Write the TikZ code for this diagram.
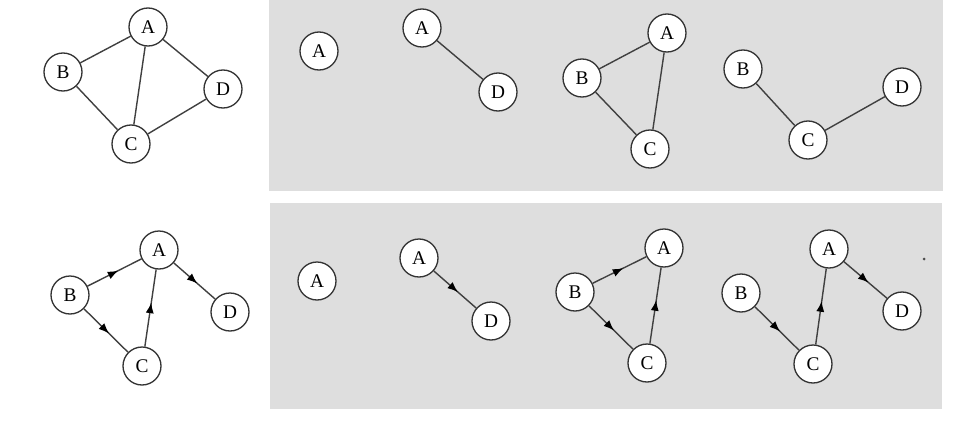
\documentclass[tikz,border=0pt]{standalone}
\usepackage{fontspec}
\setmainfont{Liberation Serif}
\usetikzlibrary{arrows.meta,decorations.markings}

\tikzset{
  vertex/.style={circle, draw=black!80, line width=0.75pt, fill=white,
    minimum size=0.76cm, inner sep=0pt, font=\fontsize{11}{13}\selectfont},
  edge/.style={draw=black!75, line width=0.8pt},
  darc/.style={edge, postaction={decorate}, decoration={markings,
    mark=at position 0.57 with {\arrow[black]{Latex[length=6pt,width=4.6pt]}}}},
  panel/.style={fill=black!13, draw=none}
}

\begin{document}
\begin{tikzpicture}[x=0.02cm, y=-0.02cm]

    \useasboundingbox (0,0) rectangle (954,427);

    % Gray panels
    \fill[panel] (269,0) rectangle (943,191);
    \fill[panel] (270,203) rectangle (942,409);

    % Undirected graph
    \node[vertex] (A0) at (148,27) {A};
    \node[vertex] (B0) at (63,72) {B};
    \node[vertex] (D0) at (223,89) {D};
    \node[vertex] (C0) at (131,144) {C};
    \draw[edge] (A0) -- (B0);
    \draw[edge] (A0) -- (C0);
    \draw[edge] (A0) -- (D0);
    \draw[edge] (B0) -- (C0);
    \draw[edge] (C0) -- (D0);

    % Its connected subgraphs
    \node[vertex] (A1) at (319,51) {A};

    \node[vertex] (A2) at (422,28) {A};
    \node[vertex] (D2) at (498,92) {D};
    \draw[edge] (A2) -- (D2);

    \node[vertex] (A3) at (667,33) {A};
    \node[vertex] (B3) at (582,78) {B};
    \node[vertex] (C3) at (650,149) {C};
    \draw[edge] (B3) -- (A3);
    \draw[edge] (A3) -- (C3);
    \draw[edge] (B3) -- (C3);

    \node[vertex] (B4) at (743,69) {B};
    \node[vertex] (C4) at (808,140) {C};
    \node[vertex] (D4) at (902,87) {D};
    \draw[edge] (B4) -- (C4);
    \draw[edge] (C4) -- (D4);

    % Directed graph
    \node[vertex] (a0) at (159,250) {A};
    \node[vertex] (b0) at (70,295) {B};
    \node[vertex] (d0) at (230,312) {D};
    \node[vertex] (c0) at (142,366) {C};
    \draw[darc] (b0) -- (a0);
    \draw[darc] (a0) -- (d0);
    \draw[darc] (b0) -- (c0);
    \draw[darc] (c0) -- (a0);

    % Its directed subgraphs
    \node[vertex] (a1) at (317,281) {A};

    \node[vertex] (a2) at (419,258) {A};
    \node[vertex] (d2) at (491,321) {D};
    \draw[darc] (a2) -- (d2);

    \node[vertex] (a3) at (664,248) {A};
    \node[vertex] (b3) at (575,292) {B};
    \node[vertex] (c3) at (647,363) {C};
    \draw[darc] (b3) -- (a3);
    \draw[darc] (b3) -- (c3);
    \draw[darc] (c3) -- (a3);

    \node[vertex] (a4) at (829,249) {A};
    \node[vertex] (b4) at (741,293) {B};
    \node[vertex] (c4) at (813,364) {C};
    \node[vertex] (d4) at (902,311) {D};
    \draw[darc] (b4) -- (c4);
    \draw[darc] (c4) -- (a4);
    \draw[darc] (a4) -- (d4);

    % Stray dot
    \fill[black!70] (924,259) circle (1.5);

\end{tikzpicture}
\end{document}
